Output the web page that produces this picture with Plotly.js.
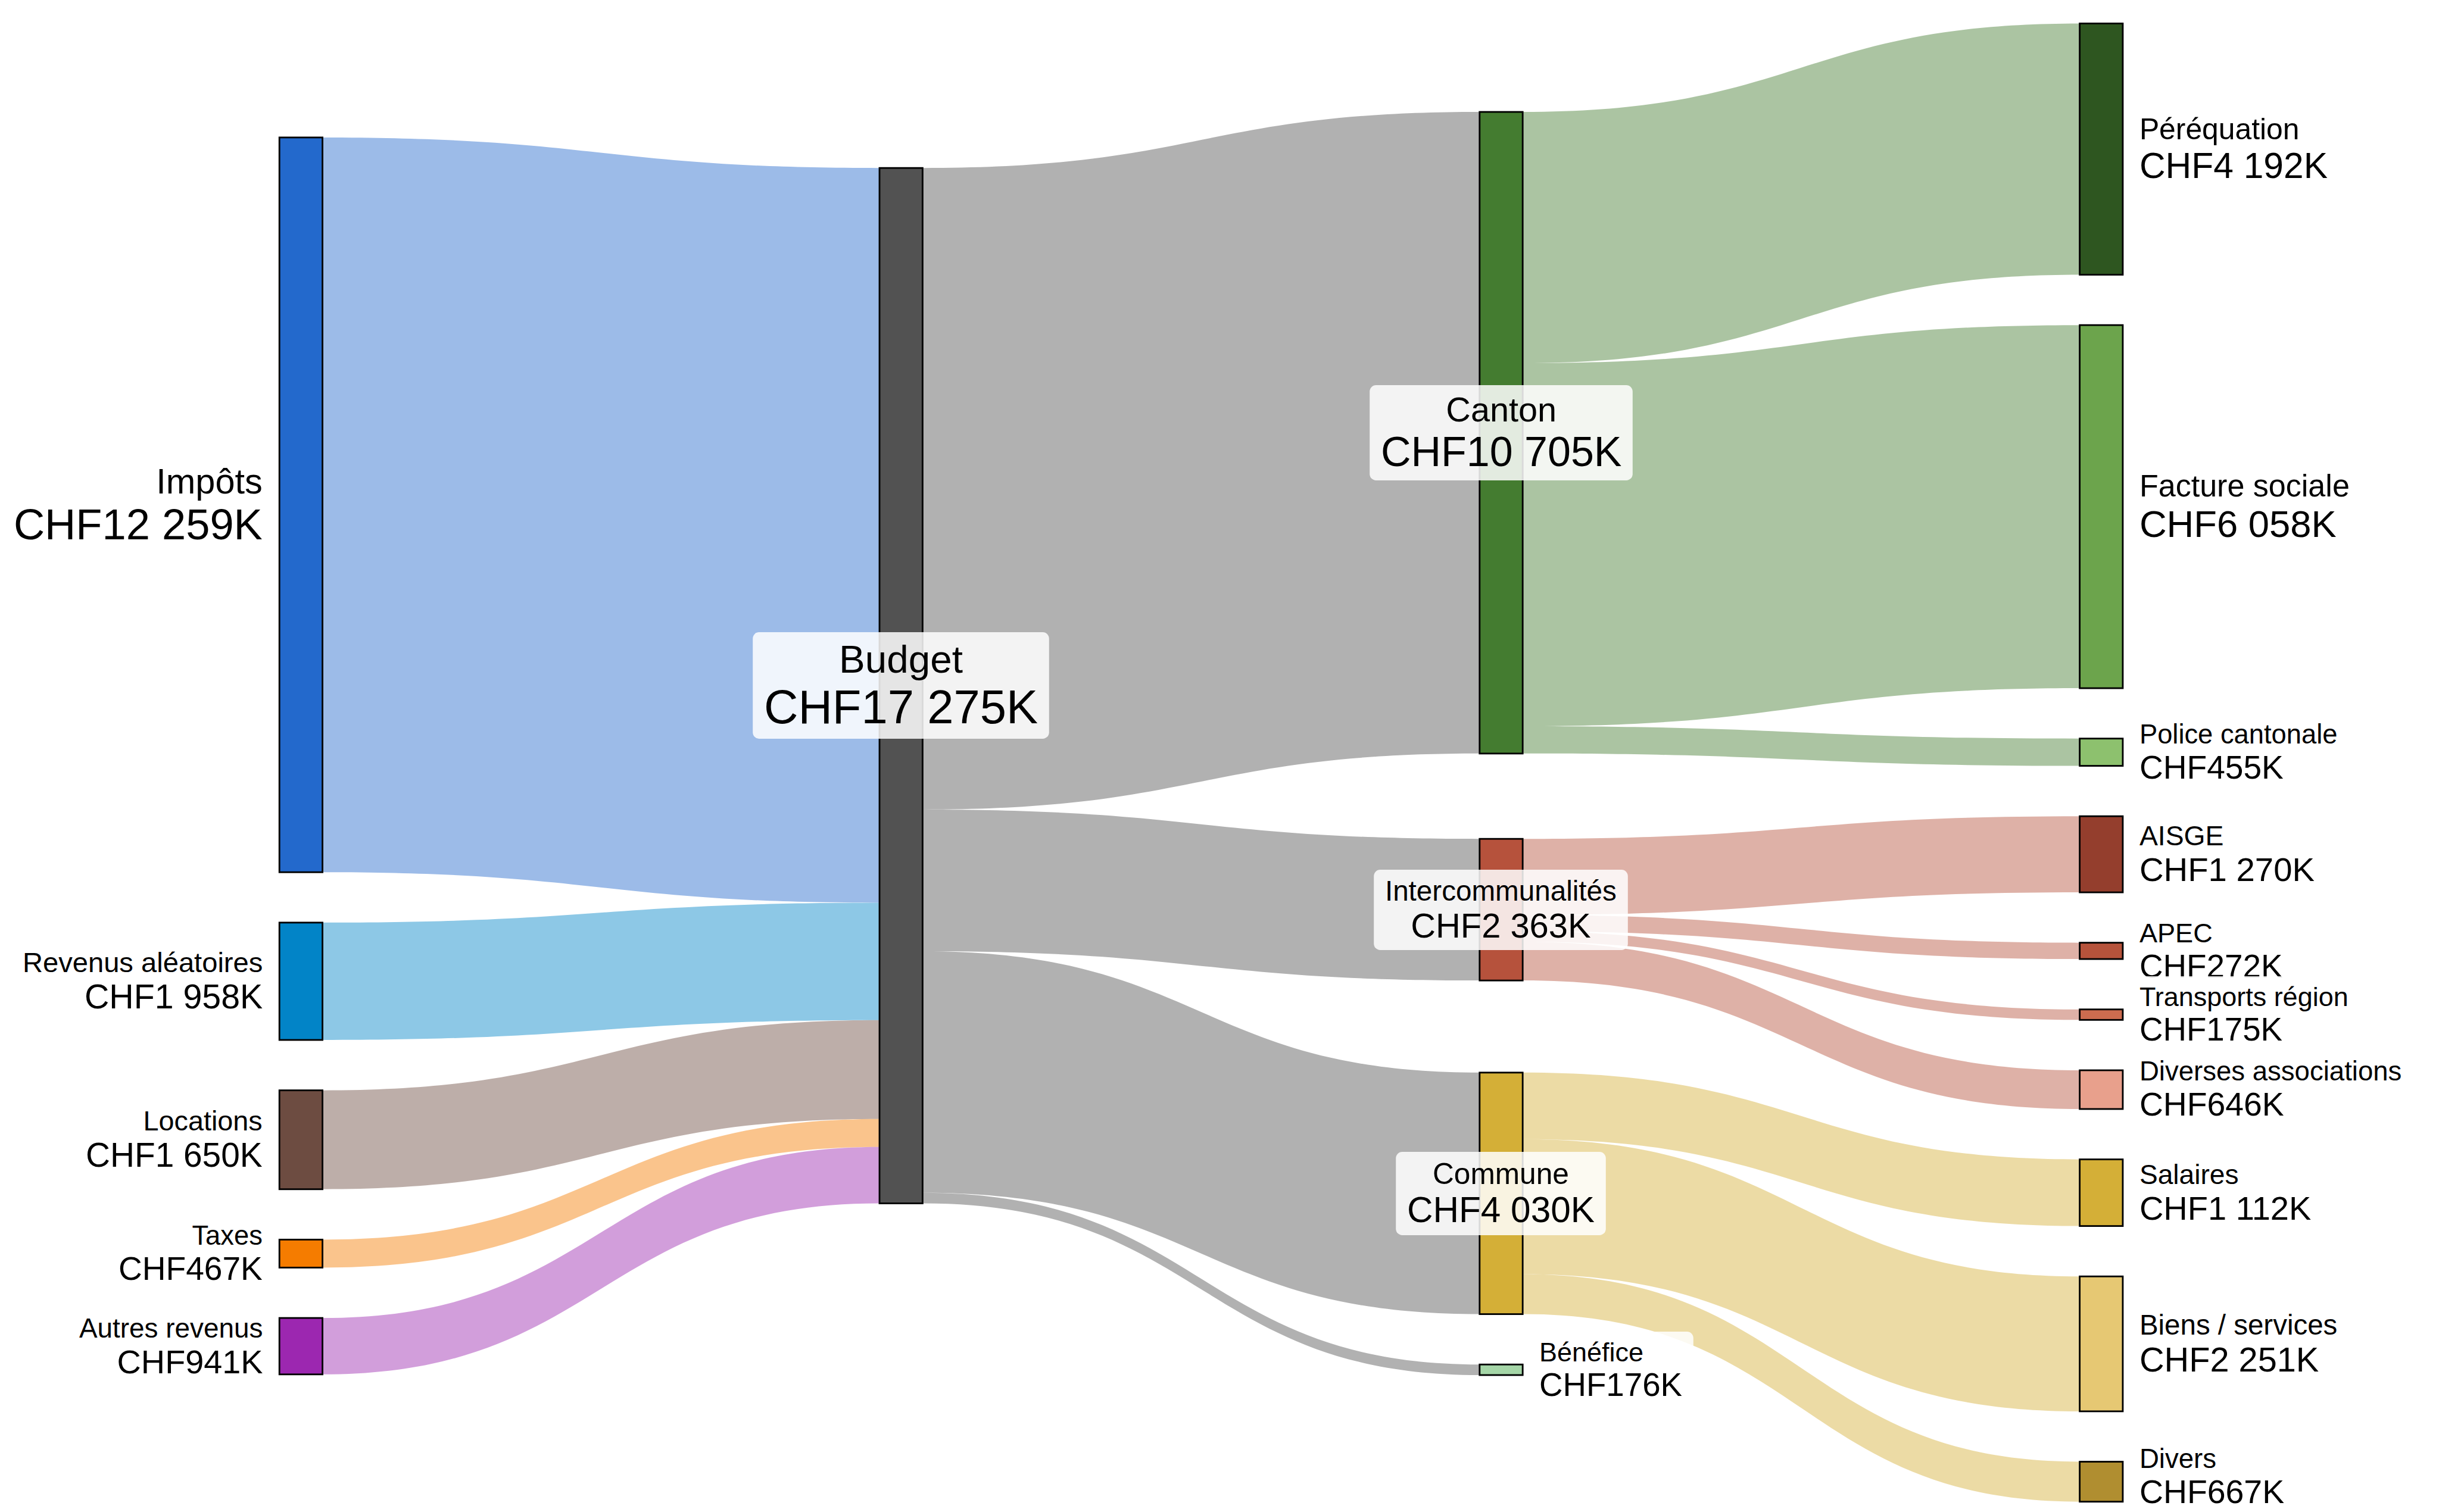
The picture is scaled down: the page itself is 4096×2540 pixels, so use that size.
<!DOCTYPE html>
<html>
<head>
<meta charset="utf-8">
<script src="https://cdn.plot.ly/plotly-3.0.1.min.js"></script>
<style>
html,body{margin:0;padding:0;background:#ffffff;}
#chart{width:4096px;height:2540px;}
</style>
</head>
<body>
<div id="chart"></div>
<script>
// ---------------- DATA ----------------
const nodeNames = ['Impôts', 'Revenus aléatoires', 'Locations', 'Taxes', 'Autres revenus',
  'Budget',
  'Canton', 'Intercommunalités', 'Commune', 'Bénéfice',
  'Péréquation', 'Facture sociale', 'Police cantonale',
  'AISGE', 'APEC', 'Transports région', 'Diverses associations',
  'Salaires', 'Biens / services', 'Divers'];
const linkSource = [0, 1, 2, 3, 4, 5, 5, 5, 5, 6, 6, 6, 7, 7, 7, 7, 8, 8, 8];
const linkTarget = [5, 5, 5, 5, 5, 6, 7, 8, 9, 10, 11, 12, 13, 14, 15, 16, 17, 18, 19];
const linkValue  = [12259, 1958, 1650, 467, 941, 10705, 2363, 4030, 176, 4192, 6058, 455, 1270, 272, 175, 646, 1112, 2251, 667];
const currencyPrefix = 'CHF';
const unitSuffix = 'K';

// ---------------- STYLE / LAYOUT ----------------
const nodeColors = ['#2369CC', '#0284C7', '#6D4C41', '#F57C00', '#9C27B0',
  '#525252',
  '#447C30', '#B6523C', '#D4AF37', '#A5D6A7',
  '#2E5620', '#6CA44C', '#8DC16E',
  '#943E2D', '#B6533B', '#CC6C4F', '#E8A08C',
  '#D4AF37', '#E6C873', '#B08E30'];
const nodeColumn = [0, 0, 0, 0, 0, 1, 2, 2, 2, 2, 3, 3, 3, 3, 3, 3, 3, 3, 3, 3];
// node top edges measured on the reference frame (4598 x 2851); null = stacked below previous node of the column
const nodeTopRef = [259.2, null, null, null, null, 316.75, 211.05, 1581.75, 2022.45, null,
  44.25, null, null, null, null, null, null, null, null, null];
const labelMode = ['left', 'left', 'left', 'left', 'left', 'center', 'center', 'center', 'center', 'right',
  'right', 'right', 'right', 'right', 'right', 'right', 'right', 'right', 'right', 'right'];

const REFW = 4598, REFH = 2851;
const figW = 4096, figH = 2540;
const sx = figW / REFW, sy = figH / REFH;
const refDomX0 = 526.75, refDomX1 = 4001.85, refDomY0 = 44.25, refDomY1 = 2831.55;
const domX = [refDomX0 / REFW, refDomX1 / REFW];
const domY = [1 - refDomY1 / REFH, 1 - refDomY0 / REFH];
const W = figW * (domX[1] - domX[0]);
const H = figH * (domY[1] - domY[0]);
const domLeft = figW * domX[0];
const domTop = figH * (1 - domY[1]);
const pad = 95 * sy;
const thick = 81.2 * sx;
const lineW = 3.2 * sx;
const labelGap = 31.5 * sx;
const boxPad = 10 * sy, boxExtra = 11 * sx, boxRadius = 12 * sx;
const linkAlpha = 0.45;
const fontFamily = '"Liberation Sans", Arial, Helvetica, sans-serif';

function hexToRgb(h) {
  const n = parseInt(h.slice(1), 16);
  return [(n >> 16) & 255, (n >> 8) & 255, n & 255];
}
function rgba(h, a) { const c = hexToRgb(h); return 'rgba(' + c[0] + ',' + c[1] + ',' + c[2] + ',' + a + ')'; }
function darker(h, f) { const c = hexToRgb(h).map(v => Math.round(v * f)); return 'rgb(' + c.join(',') + ')'; }

// node totals (as sankey computes them)
const nNodes = nodeNames.length;
const inSum = new Array(nNodes).fill(0), outSum = new Array(nNodes).fill(0);
linkValue.forEach((v, i) => { outSum[linkSource[i]] += v; inSum[linkTarget[i]] += v; });
const nodeVal = inSum.map((v, i) => Math.max(v, outSum[i]));

// vertical scale, same rule as d3-sankey
const nCols = Math.max(...nodeColumn) + 1;
let ky = Infinity;
for (let c = 0; c < nCols; c++) {
  const idx = nodeColumn.map((col, i) => col === c ? i : -1).filter(i => i >= 0);
  const s = idx.reduce((a, i) => a + nodeVal[i], 0);
  ky = Math.min(ky, (H - (idx.length - 1) * pad) / s);
}

// node positions
const nodeTop = new Array(nNodes), nodeH = new Array(nNodes);
const lastBottom = {};
for (let i = 0; i < nNodes; i++) {
  nodeH[i] = nodeVal[i] * ky;
  const c = nodeColumn[i];
  if (nodeTopRef[i] !== null) nodeTop[i] = (nodeTopRef[i] - refDomY0) * sy;
  else nodeTop[i] = lastBottom[c] + pad;
  lastBottom[c] = nodeTop[i] + nodeH[i];
}
const colStep = (W - thick) / (nCols - 1);
const nodeX = nodeColumn.map(c => (thick / 2 + c * colStep) / W);
const nodeY = nodeTop.map((t, i) => (t + nodeH[i] / 2) / H);

const linkColors = linkSource.map(s => rgba(nodeColors[s], linkAlpha));
const lineColors = nodeColors.map(c => darker(c, 0.58));

function fmtValue(v) {
  const th = Math.floor(v / 1000), r = v % 1000;
  return currencyPrefix + (th > 0 ? th + ' ' + String(r).padStart(3, '0') : String(r)) + unitSuffix;
}

const annotations = [];
for (let i = 0; i < nNodes; i++) {
  const nameSize = (50.26 + 0.00135 * nodeVal[i]) * sy;
  const valSize = nameSize * 1.215;
  const left = domLeft + nodeColumn[i] * colStep;
  const right = left + thick;
  let cy = domTop + nodeTop[i] + nodeH[i] / 2;
  // keep the two-line text block inside the picture
  const halfText = (0.905 * nameSize + 1.3 * nameSize + 0.212 * valSize) / 2;
  cy = Math.min(cy, figH - 3 - halfText);
  let x, xanchor, align;
  if (labelMode[i] === 'left') { x = left - labelGap + boxPad; xanchor = 'right'; align = 'right'; }
  else if (labelMode[i] === 'right') { x = right + labelGap - boxPad; xanchor = 'left'; align = 'left'; }
  else { x = (left + right) / 2; xanchor = 'center'; align = 'center'; }
  annotations.push({
    xref: 'paper', yref: 'paper', x: x / figW, y: 1 - cy / figH,
    xanchor: xanchor, yanchor: 'middle', align: align, showarrow: false,
    text: nodeNames[i] + '<br><span style="font-size:' + valSize.toFixed(1) + 'px">' + fmtValue(nodeVal[i]) + '</span>',
    font: { family: fontFamily, size: nameSize, color: '#000000' },
    bgcolor: 'rgba(255,255,255,0.85)', borderpad: boxPad, borderwidth: 0
  });
}

const data = [{
  type: 'sankey',
  arrangement: 'fixed',
  domain: { x: domX, y: domY },
  node: {
    label: nodeNames.map(() => ''),
    color: nodeColors,
    line: { color: lineColors, width: lineW },
    thickness: thick,
    pad: pad,
    align: 'left',
    x: nodeX,
    y: nodeY,
    hoverinfo: 'none'
  },
  link: {
    source: linkSource,
    target: linkTarget,
    value: linkValue,
    color: linkColors,
    hoverinfo: 'none'
  },
  textfont: { family: fontFamily, size: 10, color: 'rgba(0,0,0,0)' }
}];

const layout = {
  width: figW, height: figH,
  margin: { l: 0, r: 0, t: 0, b: 0, pad: 0 },
  paper_bgcolor: '#ffffff',
  font: { family: fontFamily },
  showlegend: false,
  annotations: annotations
};

Plotly.newPlot('chart', data, layout, { staticPlot: true, displayModeBar: false }).then(gd => {
  gd.querySelectorAll('.annotation rect.bg').forEach(r => {
    const x = parseFloat(r.getAttribute('x')) || 0;
    const w = parseFloat(r.getAttribute('width')) || 0;
    r.setAttribute('x', x - boxExtra);
    r.setAttribute('width', w + 2 * boxExtra);
    r.setAttribute('rx', boxRadius);
    r.setAttribute('ry', boxRadius);
  });
});
</script>
</body>
</html>
